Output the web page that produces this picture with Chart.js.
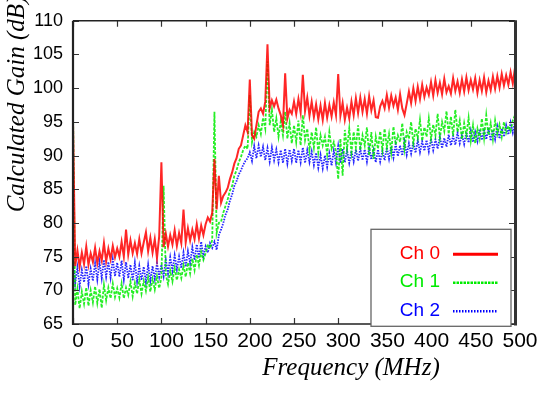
<!DOCTYPE html>
<html>
<head>
<meta charset="utf-8">
<script src="https://cdn.jsdelivr.net/npm/chart.js@4.4.0/dist/chart.umd.min.js"></script>
<style>
  html, body { margin: 0; padding: 0; background: #fff; }
  #c { display: block; }
</style>
</head>
<body>
<canvas id="c" width="545" height="396"></canvas>
<script>
// Frequency grid (MHz), one sample every 2.5 MHz from 0 to 500
const FREQ_STEP = 2.5;
const freqMHz = Array.from({ length: 201 }, (_, i) => i * FREQ_STEP);

const xTicks = [0, 50, 100, 150, 200, 250, 300, 350, 400, 450, 500];
const yTicks = [65, 70, 75, 80, 85, 90, 95, 100, 105, 110];

const seriesNames = ['Ch 0', 'Ch 1', 'Ch 2'];

// Calculated gain (dB)
const ch0Gain = [
  95.0, 73.6, 75.9, 73.5, 75.6, 73.9, 76.5, 73.8, 75.5, 74.2, 76.3, 74.0, 75.8, 74.4, 77.0, 74.3, 76.2, 74.6, 76.6, 74.9,
  76.2, 75.0, 77.2, 75.0, 79.0, 75.3, 77.4, 75.5, 77.0, 75.4, 77.6, 75.5, 77.1, 78.6, 75.8, 77.8, 75.6, 77.6, 74.8, 78.0,
  89.0, 76.4, 78.4, 76.5, 78.2, 76.8, 78.9, 76.6, 78.5, 77.0, 82.0, 77.1, 79.2, 77.4, 79.0, 77.6, 79.8, 77.7, 79.6, 78.2,
  79.8, 80.8, 80.2, 81.5, 89.5, 82.0, 87.0, 83.0, 84.0, 84.5, 85.2, 86.5, 87.5, 88.8, 89.6, 91.0, 91.5, 93.0, 94.5, 93.5,
  101.3, 93.0, 92.5, 94.5, 96.5, 97.0, 96.2, 98.0, 106.5, 97.0, 98.2, 97.3, 98.3, 97.0, 96.0, 94.5, 102.2, 95.5, 96.8, 96.2,
  98.0, 96.2, 98.4, 96.4, 102.0, 96.6, 98.6, 95.9, 98.0, 95.7, 97.6, 95.4, 97.4, 95.3, 97.8, 95.6, 97.5, 95.8, 97.9, 96.0,
  102.1, 95.9, 97.8, 95.3, 97.1, 95.5, 98.0, 96.0, 98.5, 96.3, 98.6, 96.5, 98.4, 96.2, 98.8, 96.7, 98.2, 95.7, 95.6, 97.3,
  98.1, 97.0, 99.0, 97.1, 98.9, 97.4, 98.6, 96.8, 99.1, 97.0, 96.0, 97.7, 99.5, 97.8, 100.0, 98.1, 100.2, 98.4, 100.5, 98.7,
  100.1, 99.0, 100.9, 98.9, 101.2, 99.3, 100.8, 99.1, 101.4, 99.4, 100.3, 99.2, 101.5, 99.6, 101.0, 99.3, 101.3, 99.5, 101.6, 99.7,
  101.2, 99.8, 101.5, 99.3, 101.2, 99.6, 101.6, 99.4, 101.1, 99.7, 101.7, 99.9, 101.8, 100.1, 102.1, 100.4, 101.9, 100.5, 102.4, 100.7,
  103.0
];
const ch1Gain = [
  97.0, 67.8, 70.2, 67.3, 69.8, 68.0, 70.4, 67.7, 70.0, 68.2, 70.6, 68.1, 70.2, 67.4, 70.8, 68.5, 70.4, 68.8, 71.0, 69.0,
  70.3, 68.9, 71.0, 68.8, 70.4, 69.3, 71.3, 69.1, 71.1, 69.5, 71.6, 69.5, 71.4, 69.9, 71.9, 69.8, 71.7, 70.1, 72.1, 70.3,
  71.9, 85.5, 72.3, 70.9, 72.9, 71.3, 73.3, 71.5, 73.1, 71.8, 73.7, 72.0, 74.1, 72.5, 74.7, 73.0, 75.3, 73.7, 75.7, 74.5,
  75.5, 76.8, 76.2, 77.5, 96.5, 78.5, 80.0, 80.2, 81.5, 82.5, 83.5, 84.8, 85.5, 87.0, 87.8, 89.0, 89.8, 90.8, 91.5, 91.0,
  99.0, 92.0, 93.5, 92.8, 94.5, 93.2, 95.6, 94.0, 104.0, 94.5, 96.8, 93.5, 95.5, 92.8, 95.0, 93.0, 96.5, 92.5, 94.8, 91.8,
  94.5, 92.0, 95.2, 91.5, 96.0, 92.3, 94.0, 90.8, 93.5, 91.2, 94.2, 90.5, 93.0, 91.5, 92.8, 90.2, 93.5, 91.0, 92.0, 90.6,
  86.5, 92.5, 87.0, 93.8, 91.0, 94.0, 90.5, 93.5, 91.2, 94.5, 90.8, 93.0, 91.5, 94.2, 90.0, 93.5, 89.5, 92.8, 91.0, 93.6,
  90.8, 94.0, 91.2, 93.2, 90.5, 94.3, 91.6, 93.0, 92.0, 94.8, 91.0, 93.5, 92.5, 95.0, 91.8, 94.0, 92.6, 95.3, 92.2, 94.2,
  92.8, 95.5, 92.5, 94.6, 93.0, 96.2, 92.6, 95.0, 93.6, 96.6, 93.2, 95.8, 92.9, 96.8, 93.5, 95.2, 92.4, 94.8, 93.0, 95.6,
  92.2, 94.5, 91.8, 94.0, 92.5, 95.5, 92.6, 96.0, 93.0, 94.8, 92.4, 95.2, 93.2, 94.6, 92.8, 95.0, 93.4, 94.4, 93.6, 95.2,
  96.0
];
const ch2Gain = [
  75.0, 71.0, 73.4, 70.6, 73.0, 71.2, 73.6, 70.9, 73.2, 71.4, 74.0, 71.6, 74.2, 71.8, 74.5, 72.0, 74.2, 71.9, 74.6, 72.1,
  74.1, 72.0, 74.4, 71.6, 74.2, 71.8, 73.8, 71.4, 74.1, 71.3, 73.6, 71.5, 73.5, 71.2, 73.8, 71.4, 73.6, 71.7, 74.0, 72.0,
  73.8, 72.1, 74.5, 72.5, 74.9, 72.9, 75.2, 73.1, 75.0, 73.3, 75.6, 73.5, 75.8, 74.0, 76.4, 74.5, 76.8, 74.8, 77.2, 75.0,
  76.5, 75.6, 77.0, 76.3, 77.2, 76.0, 78.2, 79.0, 80.0, 81.2, 82.0, 83.3, 84.2, 85.5, 86.2, 87.2, 87.8, 88.6, 89.2, 89.6,
  90.5, 89.2, 91.4, 89.6, 91.5, 89.8, 91.3, 89.3, 91.1, 89.1, 91.2, 89.3, 90.9, 89.0, 90.8, 88.9, 91.0, 88.8, 90.9, 89.2,
  91.0, 88.9, 90.8, 89.0, 91.2, 88.9, 90.8, 89.0, 90.6, 88.6, 90.4, 88.2, 90.1, 88.1, 90.0, 88.3, 90.3, 88.5, 90.7, 88.9,
  91.4, 88.9, 91.0, 89.0, 90.8, 88.9, 90.7, 89.1, 90.9, 89.2, 91.0, 89.3, 90.9, 89.1, 91.1, 89.4, 90.8, 89.0, 90.9, 89.1,
  90.7, 89.3, 91.2, 89.5, 91.4, 89.7, 91.7, 89.9, 91.5, 90.0, 92.1, 90.1, 91.8, 90.3, 92.0, 90.4, 92.3, 90.5, 92.1, 90.7,
  92.3, 90.6, 92.5, 90.8, 92.4, 91.0, 92.8, 91.1, 92.6, 91.3, 93.1, 91.5, 92.9, 91.6, 93.4, 91.8, 93.1, 91.7, 93.5, 91.9,
  93.7, 92.0, 93.5, 92.1, 93.9, 92.3, 93.7, 92.4, 94.1, 92.2, 93.8, 92.4, 94.3, 92.5, 94.0, 92.8, 94.5, 93.1, 94.9, 93.4,
  95.0
];

const colors = ['rgb(255,0,0)', 'rgb(0,235,0)', 'rgb(0,0,255)'];
const lineColors = ['rgba(255,0,0,0.85)', 'rgba(0,235,0,0.85)', 'rgba(0,0,255,0.85)'];
const dashes = [[], [3, 1.5], [1.5, 1.2]];
const widths = [2, 1.8, 1.8];
const gains = [ch0Gain, ch1Gain, ch2Gain];

const datasets = gains.map((g, k) => ({
  label: seriesNames[k],
  data: g.map((v, i) => ({ x: freqMHz[i], y: v })),
  borderColor: lineColors[k],
  borderWidth: widths[k],
  borderDash: dashes[k],
  pointRadius: 0,
  tension: 0,
  fill: false
}));

const frameTicks = {
  id: 'frameTicks',
  afterDatasetsDraw(chart) {
    const { ctx, chartArea: a, scales } = chart;
    ctx.save();
    ctx.strokeStyle = '#333';
    ctx.lineWidth = 1.2;
    const L = 6;
    xTicks.forEach(v => {
      const px = Math.round(scales.x.getPixelForValue(v)) + 0.5;
      ctx.beginPath();
      ctx.moveTo(px, a.bottom); ctx.lineTo(px, a.bottom - L);
      ctx.moveTo(px, a.top); ctx.lineTo(px, a.top + L);
      ctx.stroke();
    });
    yTicks.forEach(v => {
      const py = Math.round(scales.y.getPixelForValue(v)) + 0.5;
      ctx.beginPath();
      ctx.moveTo(a.left, py); ctx.lineTo(a.left + L, py);
      ctx.moveTo(a.right, py); ctx.lineTo(a.right - L, py);
      ctx.stroke();
    });
    // frame
    ctx.strokeStyle = '#222';
    ctx.lineWidth = 1.5;
    ctx.beginPath();
    ctx.moveTo(a.left, a.top); ctx.lineTo(a.right, a.top);
    ctx.moveTo(a.left, a.bottom); ctx.lineTo(a.right, a.bottom);
    ctx.stroke();
    ctx.lineWidth = 2.2;
    ctx.beginPath();
    ctx.moveTo(a.left, a.top); ctx.lineTo(a.left, a.bottom + 1);
    ctx.stroke();
    ctx.lineWidth = 3;
    ctx.strokeStyle = '#333';
    ctx.beginPath();
    ctx.moveTo(a.right + 0.5, a.top - 0.5); ctx.lineTo(a.right + 0.5, a.bottom + 1.5);
    ctx.stroke();
    ctx.restore();
  },
  afterDraw(chart) {
    const { ctx, chartArea: a } = chart;
    ctx.save();
    // Legend box
    const bx = a.left + 298, by = a.top + 208.5, bw = 140, bh = 97;
    ctx.fillStyle = '#fff';
    ctx.fillRect(bx, by, bw, bh);
    ctx.strokeStyle = '#666';
    ctx.lineWidth = 1.3;
    ctx.strokeRect(bx, by, bw, bh);
    ctx.font = '19px "Liberation Sans", Arial, sans-serif';
    ctx.textAlign = 'right';
    ctx.textBaseline = 'middle';
    seriesNames.forEach((name, k) => {
      const cy = by + 24 + k * 28.5;
      ctx.fillStyle = colors[k];
      ctx.fillText(name, bx + 69, cy);
      ctx.strokeStyle = colors[k];
      ctx.lineWidth = k === 0 ? 3 : 2.5;
      ctx.setLineDash(k === 0 ? [] : (k === 1 ? [2.5, 1] : [1.5, 1.5]));
      ctx.beginPath();
      ctx.moveTo(bx + 82, cy + 1); ctx.lineTo(bx + 127, cy + 1);
      ctx.stroke();
      ctx.setLineDash([]);
    });
    // Axis titles
    ctx.fillStyle = '#000';
    ctx.font = 'italic 25px "Liberation Serif", "Times New Roman", serif';
    ctx.textAlign = 'center';
    ctx.textBaseline = 'middle';
    ctx.fillText('Frequency (MHz)', 351, 368);
    ctx.translate(17, 104);
    ctx.rotate(-Math.PI / 2);
    ctx.fillText('Calculated Gain (dB)', 0, 0);
    ctx.restore();
  }
};

new Chart(document.getElementById('c'), {
  type: 'line',
  data: { datasets },
  options: {
    responsive: false,
    animation: false,
    layout: { padding: { left: 0, top: 15, right: 30, bottom: 0 } },
    plugins: { legend: { display: false }, tooltip: { enabled: false } },
    scales: {
      x: {
        type: 'linear',
        min: 0, max: 500,
        afterBuildTicks(scale) { scale.ticks = xTicks.map(v => ({ value: v })); },
        afterFit(scale) { scale.height = 72; },
        grid: { display: false, drawTicks: false },
        border: { display: false },
        ticks: {
          color: '#000',
          padding: 5,
          labelOffset: 5,
          maxRotation: 0,
          autoSkip: false,
          font: { family: '"Liberation Sans", Arial, sans-serif', size: 21 }
        }
      },
      y: {
        min: 65, max: 110,
        afterBuildTicks(scale) { scale.ticks = yTicks.map(v => ({ value: v })); },
        afterFit(scale) { scale.width = 73; },
        grid: { display: false, drawTicks: false },
        border: { display: false },
        ticks: {
          color: '#000',
          padding: 10,
          font: { family: '"Liberation Sans", Arial, sans-serif', size: 18 }
        }
      }
    }
  },
  plugins: [frameTicks]
});
</script>
</body>
</html>
